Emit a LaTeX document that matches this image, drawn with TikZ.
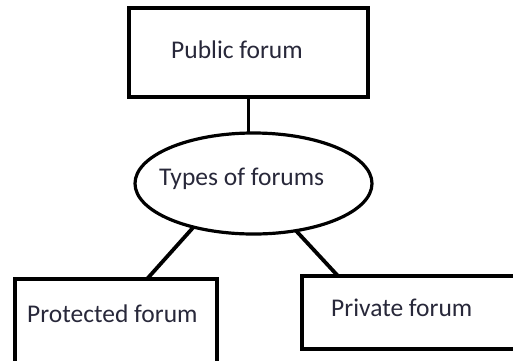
\documentclass[tikz,border=0pt]{standalone}
\usepackage{fontspec}
\setmainfont{Carlito}
\usetikzlibrary{shapes.geometric}
\definecolor{ink}{RGB}{40,40,58}
\begin{document}
\begin{tikzpicture}[x=1pt,y=-1pt,
  box/.style={draw=black,line width=4.5pt,rectangle,inner sep=0pt,outer sep=0pt,fill=white},
  oval/.style={draw=black,line width=3.2pt,ellipse,inner sep=0pt,outer sep=0pt,fill=white},
  link/.style={draw=black,line width=3.8pt},
  lbl/.style={anchor=base west,inner sep=0pt,text=ink,font=\fontsize{25.5}{30}\selectfont}]
  \useasboundingbox (0,0) rectangle (513,360);

  % shapes
  \node[box,minimum width=239pt,minimum height=89pt] (pub) at (248.5,52.5) {};
  \node[oval,minimum width=237pt,minimum height=101pt] (types) at (253.5,183.5) {};
  \node[box,minimum width=202pt,minimum height=93pt] (prot) at (116,325.5) {};
  \node[box,minimum width=223pt,minimum height=73pt] (priv) at (413.5,312.5) {};

  % connectors
  \draw[link] (pub.south) -- (pub.south |- types.north);
  \draw[link] (types.216) -- ([xshift=31pt]prot.north);
  \draw[link] (types.312) -- ([xshift=-75.5pt]priv.north);

  % labels
  \node[lbl] (publbl) at (171,58) {Public forum};
  \node[lbl] (typeslbl) at (159,185) {Types of forums};
  \node[lbl] (protlbl) at (27,322) {Protected forum};
  \node[lbl] (privlbl) at (331,316) {Private forum};
\end{tikzpicture}
\end{document}
